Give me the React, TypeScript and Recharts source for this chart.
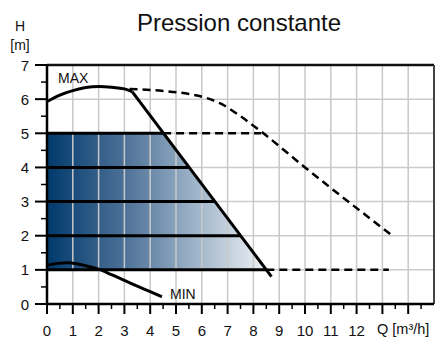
import { Area, CartesianGrid, ComposedChart, Line, ReferenceLine, XAxis, YAxis } from "recharts";

// Q [m3/h] vs H [m]
const maxCurve = [
  { x: 0, y: 5.93 }, { x: 0.5, y: 6.12 }, { x: 1, y: 6.25 }, { x: 1.5, y: 6.34 },
  { x: 2, y: 6.37 }, { x: 2.5, y: 6.35 }, { x: 3, y: 6.3 }, { x: 3.3, y: 6.22 },
];
const maxDrop = [{ x: 3.3, y: 6.22 }, { x: 8.7, y: 0.8 }];
const maxDashed = [
  { x: 3.2, y: 6.3 }, { x: 4.5, y: 6.24 }, { x: 5.5, y: 6.15 }, { x: 6.2, y: 6.03 },
  { x: 6.7, y: 5.88 }, { x: 7.5, y: 5.5 }, { x: 8.3, y: 5.05 }, { x: 10, y: 4.0 }, { x: 13.3, y: 2.05 },
];
const minCurve = [
  { x: 0, y: 1.13 }, { x: 0.4, y: 1.19 }, { x: 0.8, y: 1.21 }, { x: 1.2, y: 1.17 }, { x: 1.6, y: 1.1 },
  { x: 2, y: 1.02 }, { x: 2.5, y: 0.86 }, { x: 3, y: 0.69 }, { x: 3.5, y: 0.52 }, { x: 4, y: 0.36 }, { x: 4.45, y: 0.21 },
];
// constant pressure set points: level -> end of solid segment
const levels = [5, 4, 3, 2, 1];
const levelEnds = [4.5, 5.5, 6.5, 7.5, 8.5];
const dashedTop = [{ x: 4.5, y: 5 }, { x: 8.3, y: 5 }];
const dashedBottom = [{ x: 8.5, y: 1 }, { x: 13.25, y: 1 }];
const zone = [{ x: 0, y: 5 }, { x: 4.5, y: 5 }, { x: 8.5, y: 1 }];

const xTicks = Array.from({ length: 30 }, (_, i) => i / 2);
const yTicks = Array.from({ length: 15 }, (_, i) => i / 2);
const gridX = [1, 2, 3, 4, 5, 6, 7, 8, 9, 10, 11, 12, 13, 14];
const gridY = [1, 2, 3, 4, 5, 6];

const FONT = "'Liberation Sans', Arial, sans-serif";

function YTick({ x, y, payload }: any) {
  const major = Number.isInteger(payload.value);
  return (
    <g>
      <line x1={x - (major ? 12 : 6)} x2={x} y1={y} y2={y} stroke="#000" strokeWidth={major ? 2 : 1.5} />
      {major && (
        <text x={x - 18} y={y + 5.5} textAnchor="end" fontSize={15} fontFamily={FONT} fill="#111">
          {payload.value}
        </text>
      )}
    </g>
  );
}

function XTick({ x, y, payload }: any) {
  const major = Number.isInteger(payload.value);
  return (
    <g>
      <line x1={x} x2={x} y1={y} y2={y + (major ? 10 : 5)} stroke="#000" strokeWidth={major ? 2 : 1.5} />
      {major && payload.value <= 12 && (
        <text x={x} y={y + 32} textAnchor="middle" fontSize={15} fontFamily={FONT} fill="#111">
          {payload.value}
        </text>
      )}
    </g>
  );
}

const solid = { stroke: "#000", strokeWidth: 3, dot: false, isAnimationActive: false, legendType: "none" as const };
const dashed = { ...solid, strokeWidth: 2.5, strokeDasharray: "8 5" };

export default function App() {
  return (
    <div style={{ position: "absolute", left: 0, top: 0, width: 435, height: 338, background: "#fff" }}>
      <ComposedChart width={435} height={338} margin={{ top: 65, right: 1, left: 0, bottom: 0 }}>
        <defs>
          <linearGradient id="zoneFill" x1="0" y1="0" x2="1" y2="0">
            <stop offset="0%" stopColor="#003a6c" />
            <stop offset="35%" stopColor="#4c7096" />
            <stop offset="65%" stopColor="#98afc5" />
            <stop offset="100%" stopColor="#eef1f5" />
          </linearGradient>
        </defs>
        <CartesianGrid vertical={false} horizontalValues={gridY} stroke="#cccccc" strokeWidth={1.5} />
        <XAxis
          type="number"
          dataKey="x"
          domain={[0, 15]}
          ticks={xTicks}
          interval={0}
          tick={<XTick />}
          tickLine={false}
          tickSize={0}
          tickMargin={0}
          axisLine={{ stroke: "#000", strokeWidth: 2.5 }}
          height={34}
        />
        <YAxis
          type="number"
          dataKey="y"
          domain={[0, 7]}
          ticks={yTicks}
          interval={0}
          tick={<YTick />}
          tickLine={false}
          tickSize={0}
          tickMargin={0}
          axisLine={{ stroke: "#000", strokeWidth: 2.5 }}
          width={47}
        />
        <Area data={zone} dataKey="y" type="linear" baseValue={1} stroke="none" fill="url(#zoneFill)" fillOpacity={1} isAnimationActive={false} />
        {gridX.map((v) => (
          <ReferenceLine key={v} x={v} stroke="#c8c8c8" strokeWidth={1.5} />
        ))}
        <ReferenceLine y={7} stroke="#111" strokeWidth={2.5} />
        <ReferenceLine x={15} stroke="#444" strokeWidth={2} />
        {levels.map((lv, i) => (
          <Line key={lv} data={[{ x: 0, y: lv }, { x: levelEnds[i], y: lv }]} dataKey="y" type="linear" {...solid} />
        ))}
        <Line data={dashedTop} dataKey="y" type="linear" {...dashed} />
        <Line data={dashedBottom} dataKey="y" type="linear" {...dashed} />
        <Line data={maxDashed} dataKey="y" type="monotone" {...dashed} />
        <Line data={maxCurve} dataKey="y" type="monotone" {...solid} />
        <Line data={maxDrop} dataKey="y" type="linear" {...solid} />
        <Line data={minCurve} dataKey="y" type="monotone" {...solid} />
      </ComposedChart>
      <svg width={435} height={338} style={{ position: "absolute", left: 0, top: 0, pointerEvents: "none" }} fontFamily={FONT}>
        <text x={239} y={31} textAnchor="middle" fontSize={24} fill="#111">Pression constante</text>
        <text x={20} y={31} textAnchor="middle" fontSize={14} fill="#111">H</text>
        <text x={20} y={50} textAnchor="middle" fontSize={14} fill="#111">[m]</text>
        <text x={58} y={83} fontSize={14} fill="#111">MAX</text>
        <text x={170} y={299} fontSize={14} fill="#111">MIN</text>
        <text x={377} y={334} fontSize={14.5} fill="#111">Q [m³/h]</text>
      </svg>
    </div>
  );
}
